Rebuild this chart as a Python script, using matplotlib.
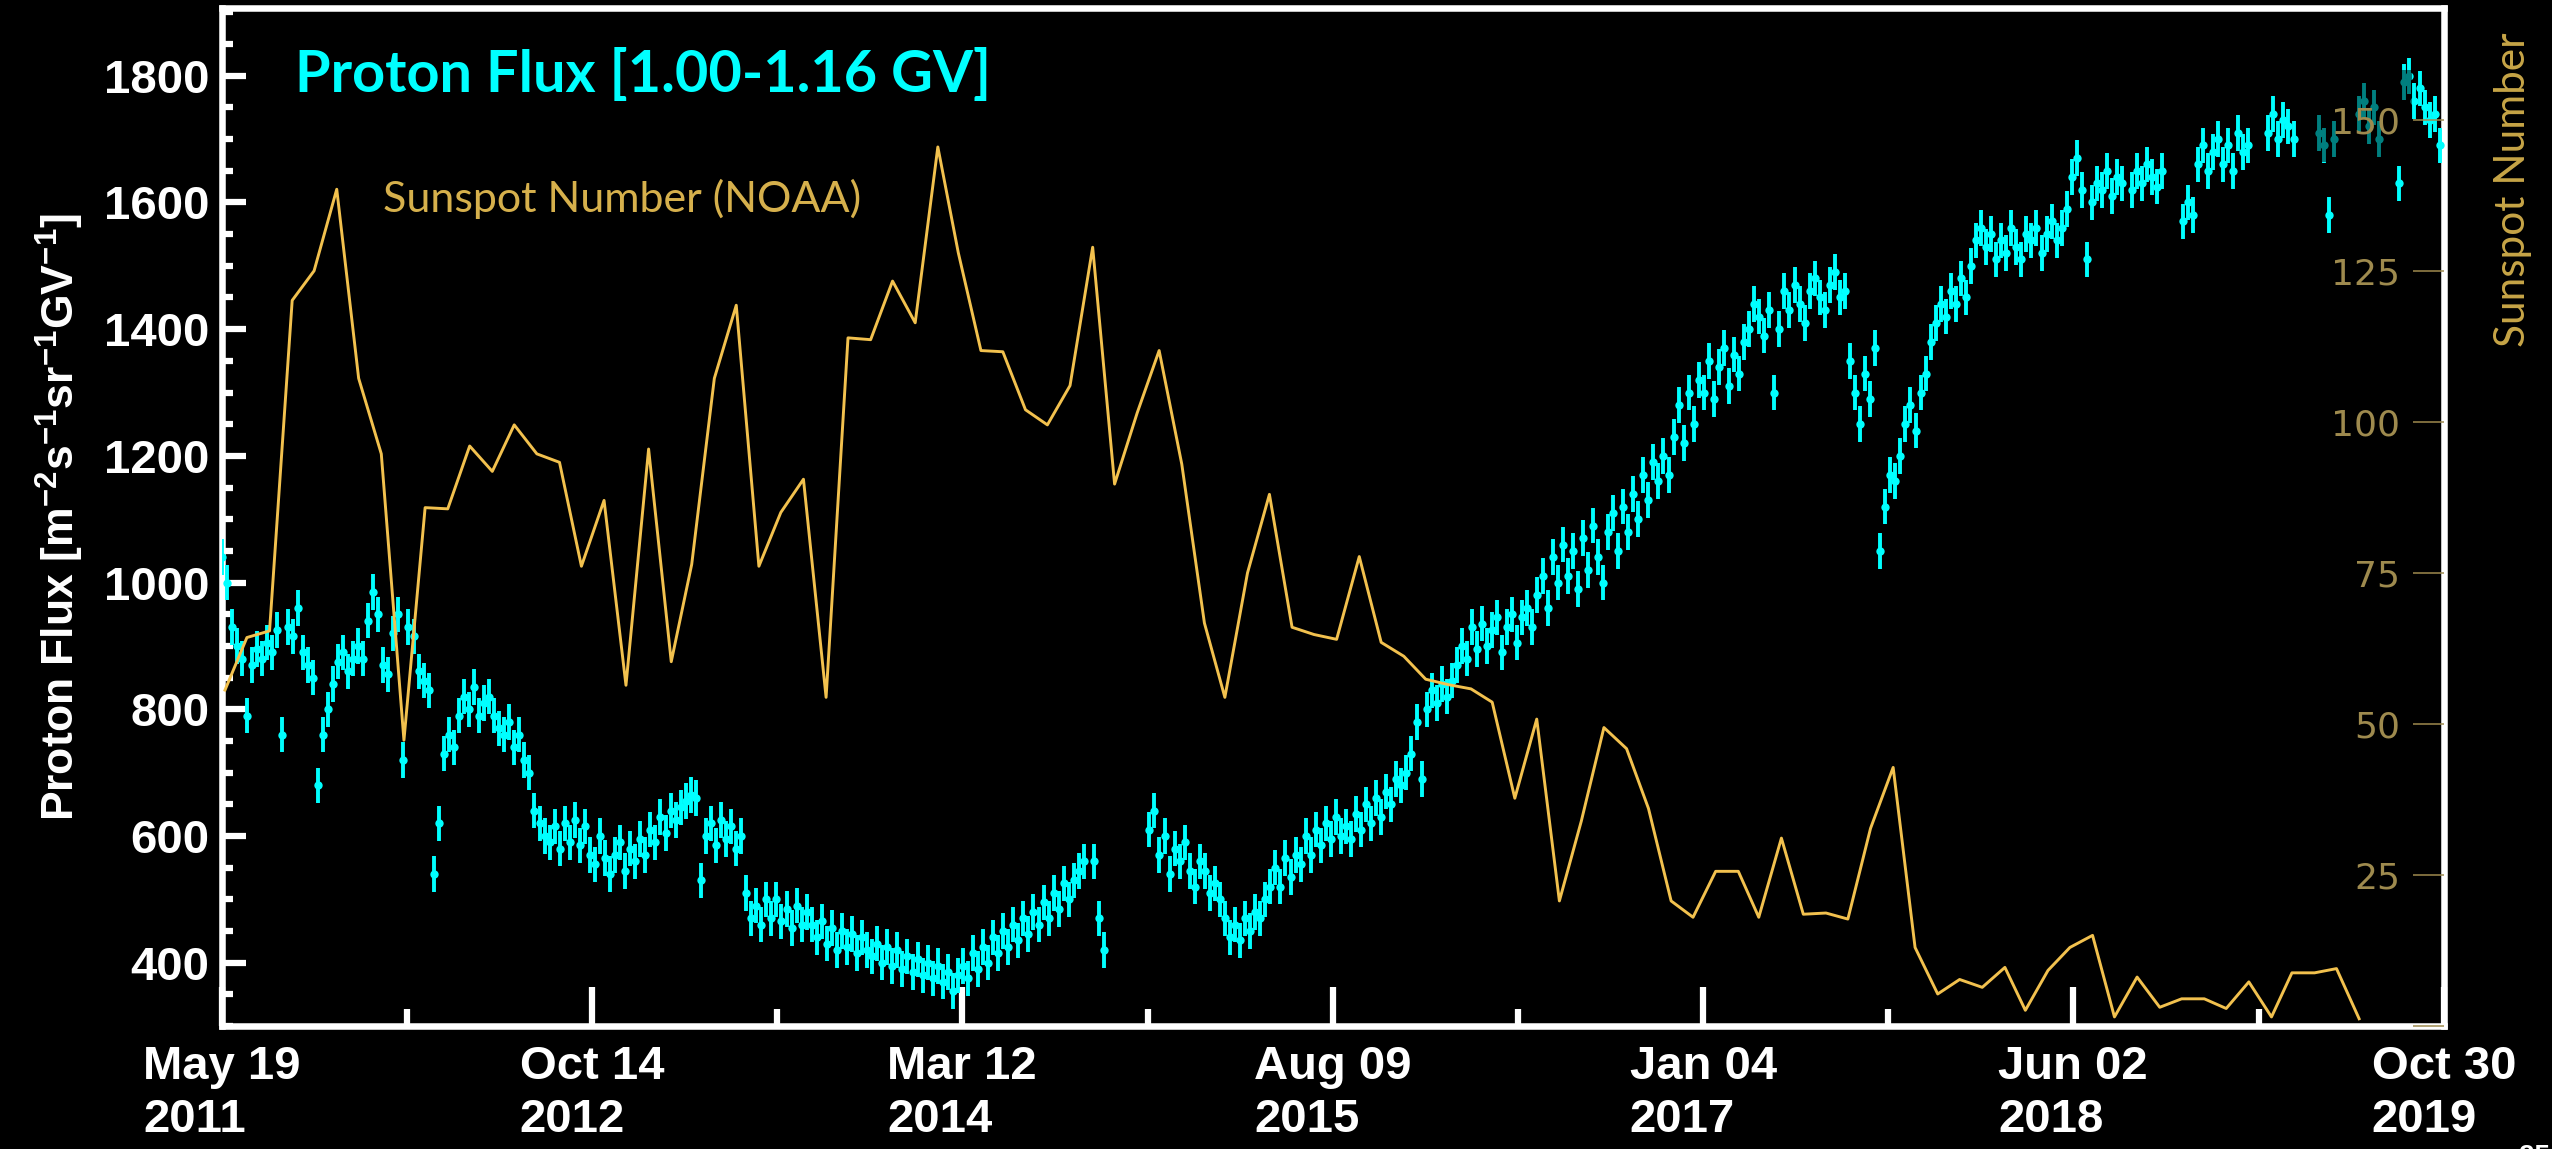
import numpy as np
import pandas as pd
import matplotlib
matplotlib.use("Agg")
import matplotlib.pyplot as plt
import matplotlib.dates as mdates
from matplotlib.patches import Rectangle
from matplotlib.ticker import FixedLocator, FixedFormatter, MultipleLocator

# ---------------------------------------------------------------- data
# Proton flux, one value every 7 days starting 2011-05-19 (nan = no data)
flux_start = "2011-05-19"
flux_values = [
    1040, 1000, 930, 900, 880, 790, 870, 895, 880, 905, 890, 925, 760,
    930, 915, 960, 890, 870, 850, 680, 760, 800, 840, 875, 890, 860,
    880, 900, 880, 940, 985, 950, 870, 855, 920, 950, 720, 930, 915,
    860, 845, 830, 540, 620, 730, 760, 740, 790, 820, 800, 835, 790,
    810, 820, 790, 770, 760, 780, 740, 760, 720, 700, 640, 620, 600,
    590, 615, 580, 620, 590, 625, 585, 615, 570, 555, 600, 565, 540,
    570, 590, 545, 580, 560, 595, 570, 610, 590, 630, 605, 640, 625,
    645, 655, 665, 660, 530, 600, 620, 585, 625, 595, 615, 580, 600,
    510, 470, 490, 460, 500, 470, 500, 465, 485, 455, 490, 460, 480,
    460, 440, 465, 430, 455, 420, 450, 425, 445, 415, 440, 420, 410,
    430, 400, 425, 395, 420, 390, 410, 385, 405, 380, 400, 375, 395,
    370, 385, 355, 380, 395, 375, 415, 390, 425, 400, 440, 415, 450,
    425, 460, 435, 470, 445, 480, 460, 495, 470, 510, 485, 525, 500,
    530, 545, 560, np.nan, 560, 470, 420, np.nan, np.nan, np.nan, np.nan, np.nan, np.nan,
    np.nan, np.nan, 610, 640, 570, 600, 540, 580, 560, 590, 545, 520, 560,
    545, 510, 525, 500, 470, 440, 460, 435, 470, 450, 480, 470, 500,
    520, 550, 520, 565, 535, 570, 555, 600, 570, 610, 585, 620, 595,
    630, 600, 615, 595, 635, 610, 650, 620, 660, 630, 670, 650, 690,
    680, 700, 730, 780, 690, 800, 830, 810, 840, 820, 845, 870, 900,
    880, 930, 895, 935, 900, 925, 945, 890, 930, 950, 905, 945, 960,
    930, 980, 1010, 960, 1040, 1000, 1060, 1010, 1050, 990, 1070, 1020, 1090,
    1040, 1000, 1080, 1110, 1050, 1120, 1080, 1140, 1100, 1170, 1130, 1190, 1160,
    1200, 1170, 1230, 1280, 1220, 1300, 1250, 1320, 1300, 1350, 1290, 1340, 1370,
    1310, 1360, 1330, 1380, 1400, 1440, 1420, 1390, 1430, 1300, 1400, 1460, 1430,
    1470, 1440, 1410, 1460, 1480, 1450, 1430, 1470, 1490, 1450, 1460, 1350, 1300,
    1250, 1330, 1290, 1370, 1050, 1120, 1170, 1160, 1200, 1250, 1280, 1240, 1300,
    1330, 1380, 1410, 1440, 1420, 1460, 1440, 1480, 1450, 1500, 1540, 1560, 1530,
    1550, 1510, 1540, 1520, 1560, 1530, 1510, 1550, 1540, 1560, 1520, 1550, 1570,
    1540, 1560, 1590, 1640, 1670, 1620, 1510, 1600, 1630, 1620, 1650, 1610, 1640,
    1630, np.nan, 1620, 1650, 1630, 1660, 1640, 1625, 1650, np.nan, np.nan, np.nan, 1570,
    1600, 1580, 1660, 1690, 1650, 1680, 1700, 1660, 1690, 1650, 1710, 1680, 1690,
    np.nan, np.nan, np.nan, 1710, 1740, 1700, 1730, 1720, 1700, np.nan, np.nan, np.nan, np.nan,
    1710, 1690, 1580, 1700, np.nan, np.nan, np.nan, np.nan, 1740, 1760, 1720, 1750, 1700,
    np.nan, np.nan, np.nan, 1630, 1790, 1800, 1760, 1780, 1750, 1730, 1740, 1690,
]
flux_err = 28

# Monthly sunspot number, June 2011 .. June 2019
sunspot_start = "2011-06-01"
sunspot_values = [
    55.6, 64.3, 65.4, 120.1, 125.0, 138.5, 107.2,
    94.7, 47.3, 85.8, 85.6, 96.0, 91.8, 99.5, 94.7, 93.3, 76.1, 87.0, 56.4,
    95.5, 60.3, 76.4, 107.2, 119.3, 76.1, 85.0, 90.5, 54.4, 113.9, 113.6, 123.3,
    116.4, 145.5, 128.0, 111.8, 111.6, 102.0, 99.5, 106.0, 128.9, 89.7, 101.5, 111.8,
    93.0, 66.7, 54.4, 75.0, 88.0, 66.0, 64.8, 64.0, 77.7, 63.5, 61.2, 57.4,
    56.5, 55.8, 53.6, 37.7, 50.8, 20.7, 33.9, 49.4, 45.9, 36.0, 20.7, 18.0,
    25.6, 25.6, 18.0, 31.1, 18.5, 18.7, 17.7, 32.7, 42.8, 13.0, 5.3, 7.7,
    6.4, 9.7, 2.6, 9.2, 13.0, 15.0, 1.5, 8.1, 3.1, 4.5, 4.5, 2.9,
    7.3, 1.5, 8.8, 8.8, 9.5, 1.2,
]

x_tick_dates = ["2011-05-19", "2012-10-14", "2014-03-12", "2015-08-09",
                "2017-01-04", "2018-06-02", "2019-10-30"]
x_tick_labels = ["May 19\n2011", "Oct 14\n2012", "Mar 12\n2014", "Aug 09\n2015",
                 "Jan 04\n2017", "Jun 02\n2018", "Oct 30\n2019"]
flux_ticks = [400, 600, 800, 1000, 1200, 1400, 1600, 1800]
sunspot_ticks = [0, 25, 50, 75, 100, 125, 150]
sunspot_tick_labels = ["", "25", "50", "75", "100", "125", "150"]

# ---------------------------------------------------------------- style
plt.rcParams["font.family"] = ["Liberation Sans", "DejaVu Sans"]
plt.rcParams["font.weight"] = "bold"
plt.rcParams["mathtext.fontset"] = "custom"
plt.rcParams["mathtext.rm"] = "Liberation Sans:bold"
plt.rcParams["mathtext.it"] = "Liberation Sans:bold"
plt.rcParams["mathtext.bf"] = "Liberation Sans:bold"

CYAN = "#00FFFF"
GOLD_LINE = "#F2C14E"
GOLD_TEXT = "#D6B04C"
GOLD_AXIS = "#9E8A4E"

W, H, DPI = 2552, 1149, 100
fig = plt.figure(figsize=(W / DPI, H / DPI), dpi=DPI, facecolor="black")

left, right, bottom, top = 222 / W, 2444 / W, 1 - 1026 / H, 1 - 8 / H
rect = [left, bottom, right - left, top - bottom]

# ---------------------------------------------------------------- flux axes
ax = fig.add_axes(rect, facecolor="black")
flux_dates = pd.date_range(flux_start, periods=len(flux_values), freq="7D")
ax.errorbar(flux_dates, flux_values, yerr=flux_err, fmt="o", color=CYAN,
            ms=6.0, mew=0, elinewidth=2.8, capsize=0, zorder=3)

major = [pd.Timestamp(d) for d in x_tick_dates]
minor = [a + (b - a) / 2 for a, b in zip(major[:-1], major[1:])]
ax.set_xlim(mdates.date2num(major[0]), mdates.date2num(major[-1]))
ax.xaxis.set_major_locator(FixedLocator(mdates.date2num(major)))
ax.xaxis.set_major_formatter(FixedFormatter(x_tick_labels))
ax.xaxis.set_minor_locator(FixedLocator(mdates.date2num(minor)))

ax.set_ylim(300, 1907)
ax.yaxis.set_major_locator(FixedLocator(flux_ticks))
ax.yaxis.set_minor_locator(MultipleLocator(50))

for s in ax.spines.values():
    s.set_color("white")
    s.set_linewidth(4.7)

ax.tick_params(axis="x", which="major", direction="in", length=28, width=4.5,
               color="white", labelcolor="white", labelsize=34, pad=14)
ax.tick_params(axis="x", which="minor", direction="in", length=12, width=4.5,
               color="white")
ax.tick_params(axis="y", which="major", direction="in", length=17, width=4.5,
               color="white", labelcolor="white", labelsize=34, pad=9)
ax.tick_params(axis="y", which="minor", direction="in", length=8, width=4.5,
               color="white")
for lbl in ax.get_xticklabels():
    lbl.set_multialignment("left")
    lbl.set_linespacing(1.25)

ax.set_ylabel(r"Proton Flux [m$^{-2}$s$^{-1}$sr$^{-1}$GV$^{-1}$]",
              fontsize=32, color="white", fontweight="bold")
ax.yaxis.set_label_coords(-0.061, 0.5)

# darker box behind the upper right-hand scale label
ax.add_patch(Rectangle(((2308 - 222) / 2222, (1026 - 162) / 1018),
                       104 / 2222, 92 / 1018, transform=ax.transAxes,
                       facecolor="black", alpha=0.5, lw=0, zorder=4))

# ---------------------------------------------------------------- sunspot axes
ax2 = fig.add_axes(rect, facecolor="none")
ax2.patch.set_visible(False)
for s in ax2.spines.values():
    s.set_visible(False)
sun_dates = pd.date_range(sunspot_start, periods=len(sunspot_values), freq="MS")
ax2.plot(sun_dates, sunspot_values, color=GOLD_LINE, lw=2.1, zorder=2)
sun_x0 = mdates.date2num(pd.Timestamp(sunspot_start)) - 4.1
ax2.set_xlim(sun_x0, sun_x0 + 3042.3)
ax2.set_ylim(0, 168.5)
ax2.xaxis.set_visible(False)
ax2.yaxis.tick_right()
ax2.yaxis.set_major_locator(FixedLocator(sunspot_ticks))
ax2.yaxis.set_major_formatter(FixedFormatter(sunspot_tick_labels))
ax2.tick_params(axis="y", which="major", direction="in", length=22.3, width=1.1,
                color=GOLD_AXIS, labelcolor=GOLD_AXIS, labelsize=26, pad=-31.7,
                labelfontfamily="DejaVu Sans")
for lbl in ax2.get_yticklabels():
    lbl.set_horizontalalignment("right")
    lbl.set_fontweight("normal")

# ---------------------------------------------------------------- texts
fig.text(295 / W, 1 - 92 / H, "Proton Flux [1.00-1.16 GV]", color=CYAN,
         fontsize=41.5, family="Lato", fontweight="bold", va="baseline", ha="left")
fig.text(383 / W, 1 - 212 / H, "Sunspot Number (NOAA)", color=GOLD_TEXT,
         fontsize=31, family="Lato", fontweight="normal", va="baseline", ha="left")
fig.text(2513 / W, 1 - 190 / H, "Sunspot Number", color="#C7A547", rotation=90,
         fontsize=30.5, family="Lato", fontweight="normal", ha="center", va="center")
fig.text(2534 / W, 0.004, "25", color="white", fontsize=20, fontweight="bold",
         ha="center", va="top")

fig.savefig("out.png", dpi=DPI, facecolor="black")
